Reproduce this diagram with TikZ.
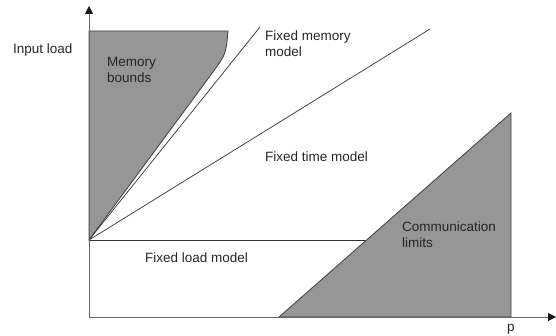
\documentclass[tikz,border=0pt]{standalone}
\usepackage{fontspec}
\setmainfont{Liberation Sans}
\usetikzlibrary{arrows.meta}
\begin{document}
\begin{tikzpicture}[x=1pt, y=-1pt,
  zone/.style = {fill=black!41, draw=black!75, line width=0.8pt},
  model/.style = {draw=black!80, line width=0.7pt},
  arrowaxis/.style = {draw=black!60, line width=1pt, -{Triangle[length=8pt,width=8pt,color=black!90]}},
  txt/.style = {font=\fontsize{13.5}{16.5}\selectfont, text=black!85, align=left, inner sep=0pt, anchor=base west}]

\useasboundingbox (0,0) rectangle (556,336);

\coordinate (o) at (89,240);
\coordinate (zero) at (89,317);
\coordinate (ytip) at (89,6);
\coordinate (xtip) at (556,317);
\coordinate (memend) at (260,27);
\coordinate (timeend) at (430,29);
\coordinate (loadend) at (380,240);

\filldraw[zone] (89,31) -- (228,31) .. controls (226,54) .. (213,72) -- (o) -- cycle;

\draw[model] (o) -- (memend);
\draw[model] (o) -- (timeend);
\draw[model] (o) -- (loadend);

\filldraw[zone] (279,317) -- (511,113) -- (511,317) -- cycle;

\draw[arrowaxis] (zero) -- (ytip);
\draw[arrowaxis] (zero) -- (xtip);

\node[txt] (input) at (13,54) {Input load};
\node[txt] (mem) at (107,83) {Memory\\bounds};
\node[txt] (fmem) at (265,57) {Fixed memory\\model};
\node[txt] (ftime) at (265,162) {Fixed time model};
\node[txt] (fload) at (145,263) {Fixed load model};
\node[txt] (comm) at (402,248) {Communication\\limits};
\node[txt] (p) at (507,331) {p};

\end{tikzpicture}
\end{document}
